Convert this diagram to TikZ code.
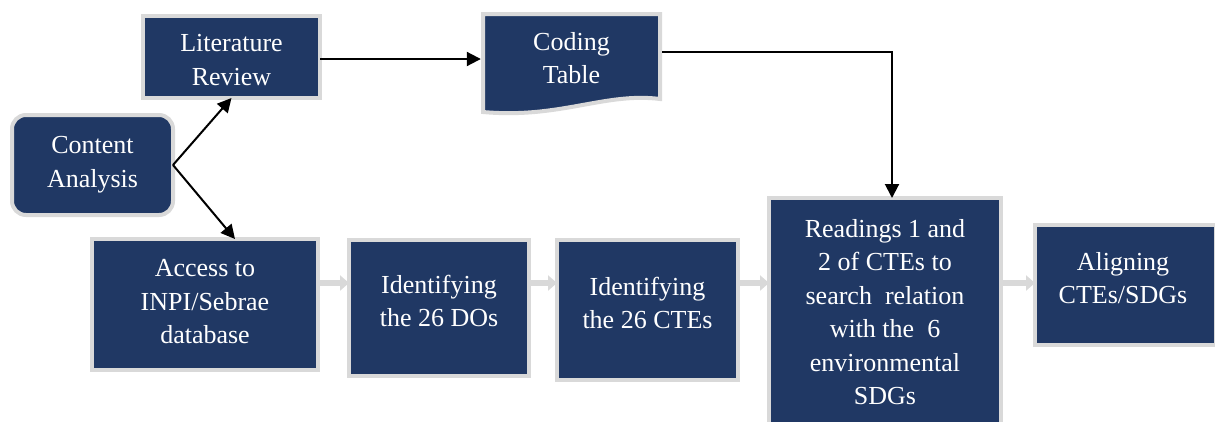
\documentclass[tikz,border=0pt]{standalone}
\usepackage{fontspec}
\setmainfont{Liberation Serif}
\usetikzlibrary{arrows.meta}
\definecolor{navy}{HTML}{203864}
\definecolor{rim}{HTML}{D9D9D9}
\tikzset{
 box/.style={draw=rim, line width=4pt, fill=navy, inner sep=0pt, outer sep=0pt},
 txt/.style={text=white, align=center, font=\fontsize{26}{33.5}\selectfont, inner sep=0pt},
 blk/.style={draw=black, line width=2pt, -{Triangle[length=14pt,width=14pt]}},
 gry/.style={draw=rim, line width=6pt, -{Triangle[length=9pt,width=15pt]}},
}
\begin{document}
\begin{tikzpicture}[x=1pt,y=-1pt]
\useasboundingbox (0,0) rectangle (1215,421);
\clip (0,0) rectangle (1215,421);
% boxes
\node[box, minimum width=177pt, minimum height=82pt] (lit) at (231.5,57) {};
\node[box, rounded corners=14pt, minimum width=161pt, minimum height=100pt] (con) at (92.5,165) {};
\node[box, minimum width=226pt, minimum height=131pt] (acc) at (205,304.5) {};
\node[box, minimum width=180pt, minimum height=136pt] (dos) at (439,308) {};
\node[box, minimum width=181pt, minimum height=140pt] (ctes) at (647.5,310) {};
\node[box, minimum width=232pt, minimum height=240pt] (rea) at (885,318) {};
\node[box, minimum width=181pt, minimum height=120pt] (ali) at (1125.5,285) {};
% coding table (document shape)
\draw[draw=rim, line width=4pt, fill=navy] (483,14) -- (660,14) -- (660,99)
  .. controls (605,92) and (560,119) .. (483,112) -- cycle;
\node[txt, minimum width=181pt, minimum height=88pt] (cod) at (571.5,58) {Coding\\Table};
% texts
\node[txt] (tlit) at (231.5,60) {Literature\\Review};
\node[txt] (tcon) at (92.5,164.5) {Content\\Analysis};
\node[txt] (tacc) at (205,302) {Access to\\INPI/Sebrae\\database};
\node[txt] (tdos) at (439,301) {Identifying\\the 26 DOs};
\node[txt] (tctes) at (647.5,303) {Identifying\\the 26 CTEs};
\node[txt] (trea) at (885,312) {Readings 1 and\\2 of CTEs to\\search\ \ relation\\with the\ \ 6\\environmental\\SDGs};
\node[txt] (tali) at (1123,278) {Aligning\\CTEs/SDGs};
% black connectors
\draw[blk] (con.east) -- (lit.south);
\draw[blk] (con.east) -- ([xshift=30pt]acc.north);
\draw[blk] ([yshift=-2pt]lit.east) -- ([yshift=-1pt]cod.west);
\draw[blk] ([yshift=6pt]cod.east) -| ([xshift=7pt]rea.north);
% gray connectors
\coordinate (gy) at (0,283);
\draw[gry] (acc.east |- gy) -- (dos.west |- gy);
\draw[gry] (dos.east |- gy) -- (ctes.west |- gy);
\draw[gry] (ctes.east |- gy) -- (rea.west |- gy);
\draw[gry] (rea.east |- gy) -- (ali.west |- gy);
\end{tikzpicture}
\end{document}
